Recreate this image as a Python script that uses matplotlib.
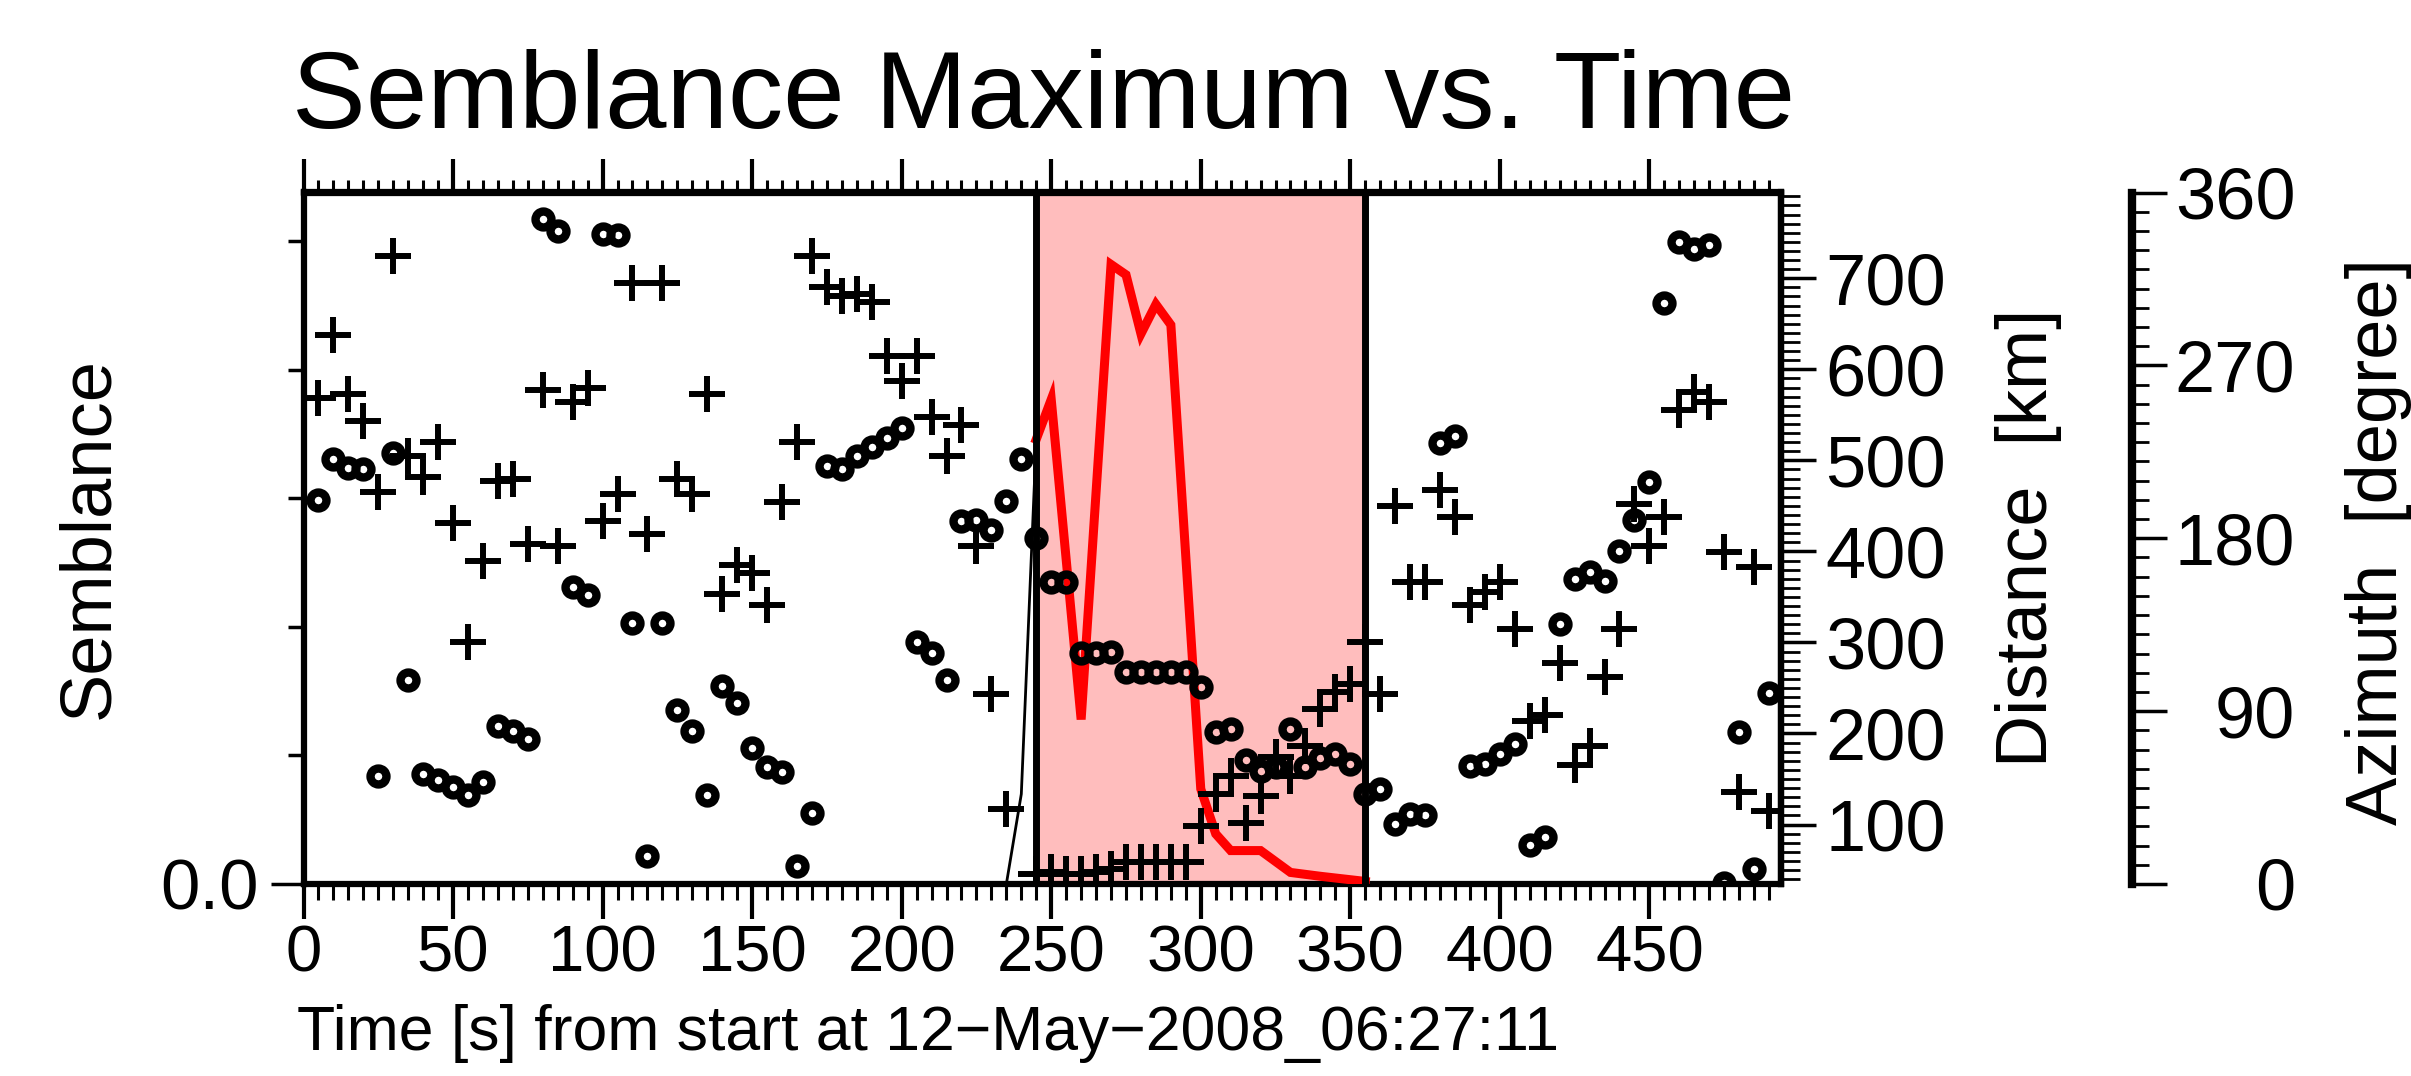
import matplotlib.pyplot as plt
from matplotlib.ticker import MultipleLocator, FixedLocator, FixedFormatter

plt.rcParams['font.family'] = ['Liberation Sans', 'DejaVu Sans']

# circles: distance of the semblance maximum [km]
circ_t = [5, 10, 15, 20, 25, 30, 35, 40, 45, 50, 55, 60, 65, 70, 75, 80, 85, 90, 95, 100,
          105, 110, 115, 120, 125, 130, 135, 140, 145, 150, 155, 160, 165, 170, 175, 180, 185, 190, 195, 200,
          205, 210, 215, 220, 225, 230, 235, 240, 245, 250, 255, 260, 265, 270, 275, 280, 285, 290, 295, 300,
          305, 310, 315, 320, 325, 330, 335, 340, 345, 350, 355, 360, 365, 370, 375, 380, 385, 390, 395, 400,
          405, 410, 415, 420, 425, 430, 435, 440, 445, 450, 455, 460, 465, 470, 475, 480, 485, 490]
dist_km = [457, 502, 492, 490, 153, 508, 259, 155, 149, 141, 133, 147, 208, 203, 194, 765, 752, 361, 352, 749,
           748, 321, 65, 321, 226, 203, 133, 252, 234, 184, 163, 158, 54, 113, 494, 491, 505, 515, 525, 536,
           301, 288, 259, 433, 435, 424, 455, 502, 415, 366, 366, 288, 288, 289, 268, 268, 268, 268, 268, 251,
           202, 205, 171, 159, 163, 205, 163, 173, 177, 167, 134, 139, 101, 112, 111, 519, 527, 164, 167, 177,
           188, 77, 86, 320, 370, 377, 368, 400, 435, 476, 673, 740, 732, 736, 36, 202, 51, 245]

# crosses: azimuth of the semblance maximum [degree]
plus_t = [5, 10, 15, 20, 25, 30, 35, 40, 45, 50, 55, 60, 65, 70, 75, 80, 85, 90, 95, 100,
          105, 110, 115, 120, 125, 130, 135, 140, 145, 150, 155, 160, 165, 170, 175, 180, 185, 190, 195, 200,
          205, 210, 215, 220, 225, 230, 235, 245, 250, 255, 260, 265, 270, 275, 280, 285, 290, 295, 300,
          305, 310, 315, 320, 325, 330, 335, 340, 345, 350, 355, 360, 365, 370, 375, 380, 385, 390, 395, 400,
          405, 410, 415, 420, 425, 430, 435, 440, 445, 450, 455, 460, 465, 470, 475, 480, 485, 490]
azim_deg = [253, 286, 255, 241, 204, 327, 223, 212, 230, 188, 126, 168, 210, 211, 177, 257, 176, 251, 258, 189,
            203, 313, 182, 313, 211, 203, 255, 151, 166, 162, 145, 199, 230, 327, 311, 306, 307, 303, 275, 262,
            275, 243, 223, 239, 176, 99, 39, 5, 6, 5, 5, 6, 8, 11.5, 11.5, 11.5, 11.5, 11.5, 30,
            47, 56, 32, 46, 66, 56, 72, 91, 100, 104, 126, 99, 197, 157, 157, 205, 191, 145, 152, 157,
            133, 85, 88, 115, 62, 72, 108, 133, 198, 176, 191, 247, 256, 251, 173, 48, 165, 38]

# semblance maximum, before the window (black) and inside it (red)
sem_t_pre = [0, 235, 240, 245]
sem_pre = [0.0, 0.0, 0.07, 0.346]
sem_t_win = [245, 250, 260, 270, 275, 280, 285, 290, 300, 305, 310, 320, 330, 340, 355]
sem_win = [0.346, 0.377, 0.128, 0.482, 0.474, 0.428, 0.451, 0.435, 0.074, 0.039, 0.026, 0.026,
           0.009, 0.006, 0.002]
win_start, win_end = 245, 355

W, H = 2411, 1076
fig = plt.figure(figsize=(W / 100, H / 100), dpi=100)
ax = fig.add_axes([303.5 / W, (H - 884) / H, 1477.5 / W, 691.5 / H])
ax.set_xlim(0, 494)
ax.set_ylim(0, 0.538)

ax.axvspan(win_start, win_end, color='#ffbdbd', lw=0, zorder=0)
ax.plot(sem_t_pre, sem_pre, color='black', lw=2, zorder=2)
ax.plot(sem_t_win, sem_win, color='red', lw=6.5, solid_joinstyle='miter', zorder=3)

for s in ax.spines.values():
    s.set_linewidth(4.5)

# time axis
ax.xaxis.set_major_locator(MultipleLocator(50))
ax.xaxis.set_minor_locator(MultipleLocator(5))
ax.tick_params(axis='x', which='major', direction='out', length=25, width=3, labelsize=47, pad=4)
ax.tick_params(axis='x', which='minor', direction='out', length=11.5, width=2.2)

top = ax.secondary_xaxis('top')
top.xaxis.set_major_locator(MultipleLocator(50))
top.xaxis.set_minor_locator(MultipleLocator(5))
top.tick_params(which='major', direction='out', length=24, width=3, labeltop=False)
top.tick_params(which='minor', direction='out', length=8.5, width=2.2)
top.spines['top'].set_linewidth(4.5)

# semblance axis, only 0.0 labelled
ax.yaxis.set_major_locator(FixedLocator([0.0]))
ax.yaxis.set_major_formatter(FixedFormatter(['0.0']))
ax.yaxis.set_minor_locator(MultipleLocator(0.1))
ax.tick_params(axis='y', which='major', direction='out', length=24, width=2.5, labelsize=51, pad=8)
ax.tick_params(axis='y', which='minor', direction='out', length=11.5, width=2.5)

# distance axis
ax2 = ax.twinx()
ax2.set_ylim(34.7, 794.2)
ax2.plot(circ_t, dist_km, ls='none', marker='o', ms=11.5, mew=6, mfc='none', mec='black', zorder=4)
for k in ['left', 'top', 'bottom']:
    ax2.spines[k].set_visible(False)
ax2.spines['right'].set_linewidth(4.5)
ax2.yaxis.set_major_locator(MultipleLocator(100))
ax2.yaxis.set_minor_locator(MultipleLocator(10))
ax2.tick_params(axis='y', which='major', direction='out', length=25, width=2.5, labelsize=52, pad=7)
ax2.tick_params(axis='y', which='minor', direction='out', length=14, width=2)

# azimuth axis, detached to the right
ax3 = ax.twinx()
ax3.set_ylim(0, 360)
ax3.plot(plus_t, azim_deg, ls='none', marker='+', ms=26, mew=4.3, color='black', zorder=4)
ax3.axvline(win_start, color='black', lw=5, zorder=5)
ax3.axvline(win_end, color='black', lw=5, zorder=5)
for k in ['left', 'top', 'bottom']:
    ax3.spines[k].set_visible(False)
ax3.spines['right'].set_position(('axes', (2131.5 - 303.5) / 1477.5))
ax3.spines['right'].set_linewidth(6)
ax3.yaxis.set_major_locator(MultipleLocator(90))
ax3.yaxis.set_minor_locator(MultipleLocator(10))
ax3.tick_params(axis='y', which='major', direction='out', length=25, width=2.5, labelsize=52, pad=93)
ax3.tick_params(axis='y', which='minor', direction='out', length=12, width=2)
for tk in ax3.yaxis.get_major_ticks():
    tk.label2.set_horizontalalignment('right')

# titles and axis labels
fig.text(1044 / W, 1 - 128 / H, 'Semblance Maximum vs. Time', ha='center', va='baseline', fontsize=79.5)
fig.text(297 / W, 1 - 1050 / H, 'Time [s] from start at 12\u2212May\u22122008_06:27:11',
         ha='left', va='baseline', fontsize=45)
fig.text(90 / W, 1 - 538 / H, 'Semblance', rotation=90, ha='center', va='center', fontsize=52)
fig.text(2029 / W, 1 - 538 / H, 'Distance  [km]', rotation=90, ha='center', va='center', fontsize=52)
fig.text(2379 / W, 1 - 542 / H, 'Azimuth  [degree]', rotation=90, ha='center', va='center', fontsize=52)

fig.savefig('out.png', dpi=100)
